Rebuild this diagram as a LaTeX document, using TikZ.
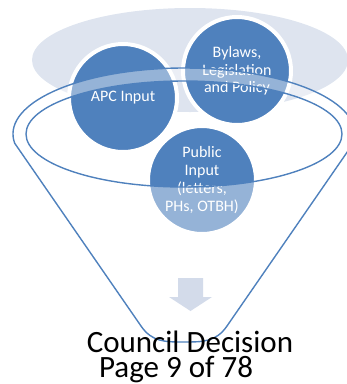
\documentclass[tikz,border=0pt]{standalone}
\usepackage{fontspec}
\setmainfont{Carlito}
\definecolor{accentblue}{HTML}{4F81BD}
\definecolor{haze}{HTML}{DEE4EF}
\definecolor{arrowtint}{HTML}{D3DBEA}
\begin{document}
\begin{tikzpicture}[x=1pt,y=-1pt,
  bubble/.style={circle, fill=accentblue, draw=white, line width=4pt,
    minimum size=108pt, inner sep=0pt, text=white, align=center,
    font=\fontsize{16}{17.5}\selectfont},
  funnelline/.style={draw=accentblue, line width=1.4pt, line join=round},
  caption/.style={anchor=base, inner sep=0pt, text=black,
    font=\fontsize{31}{33}\selectfont}]
\useasboundingbox (0,0) rectangle (347,384);

% soft backdrop behind the three inputs
\fill[haze] (190,60) ellipse [x radius=158, y radius=52];

% the inputs
\node[bubble] (apc) at (123,98) {APC Input};
\node[bubble] (bylaws) at (237,71) {Bylaws,\\Legislation\\and Policy};
\node[bubble, font=\fontsize{16}{18}\selectfont] (public) at (202,180) {Public\\Input\\(letters,\\PHs, OTBH)};

% funnel: translucent body with the opening left clear
\coordinate (rim) at (184,134);
\fill[white, fill opacity=0.4, even odd rule]
  (rim) ++(172:171 and 66) arc[start angle=172, end angle=368, x radius=171, y radius=66]
  -- (227,326) .. controls (216,342) and (203,342) .. (184,342)
  .. controls (165,342) and (152,342) .. (141,326) -- cycle
  (rim) ellipse [x radius=158, y radius=53];
\draw[funnelline]
  (rim) ++(172:171 and 66) arc[start angle=172, end angle=368, x radius=171, y radius=66]
  -- (227,326) .. controls (216,342) and (203,342) .. (184,342)
  .. controls (165,342) and (152,342) .. (141,326) -- cycle;
\draw[funnelline] (rim) ellipse [x radius=158, y radius=53];

% downward arrow inside the funnel
\fill[arrowtint] (178,278) -- (203,278) -- (203,297) -- (212,297)
  -- (190.5,311) -- (169,297) -- (178,297) -- cycle;

% outcome and footer
\node[caption, text depth=0pt] (decision) at (190,352) {Council Decision};
\node[caption, text height=20pt] (page) at (176,377.5) {Page 9 of 78};
\end{tikzpicture}
\end{document}
